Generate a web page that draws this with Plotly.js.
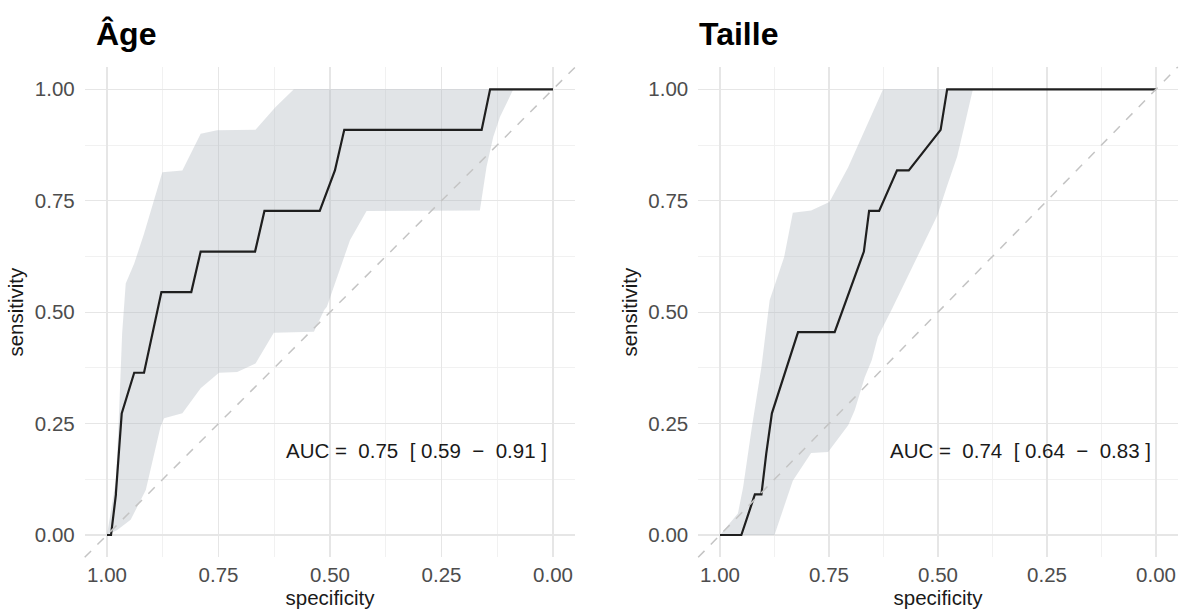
<!DOCTYPE html>
<html>
<head>
<meta charset="utf-8">
<script src="https://cdn.plot.ly/plotly-3.0.1.min.js"></script>
<style>
  html, body { margin: 0; padding: 0; background: #ffffff; }
  #chart { width: 1179px; height: 610px; }
</style>
</head>
<body>
<div id="chart"></div>
<script>
// ---------- Data ----------
const panelTitles = ["Âge", "Taille"];
const aucLabels = [
  "AUC = \u00a00.75 \u00a0[ 0.59 \u00a0\u2212 \u00a00.91 ]",
  "AUC = \u00a00.74 \u00a0[ 0.64 \u00a0\u2212 \u00a00.83 ]"
];
const tickVals = [0, 0.25, 0.5, 0.75, 1];
const tickText = ["0.00", "0.25", "0.50", "0.75", "1.00"];

// Âge : ROC curve
const ageSpec = [1.0, 0.991, 0.980, 0.980, 0.967, 0.939, 0.917, 0.878, 0.811, 0.790, 0.668, 0.647, 0.523, 0.489, 0.468, 0.160, 0.141, 0.0];
const ageSens = [0.0, 0.0, 0.091, 0.094, 0.273, 0.364, 0.364, 0.545, 0.545, 0.636, 0.636, 0.727, 0.727, 0.818, 0.909, 0.909, 1.0, 1.0];
// Âge : confidence band (upper / lower sensitivity)
const ageUpSpec = [1.0, 0.980, 0.973, 0.966, 0.958, 0.939, 0.917, 0.895, 0.876, 0.831, 0.790, 0.753, 0.667, 0.622, 0.581, 0.0];
const ageUpSens = [0.0, 0.123, 0.273, 0.453, 0.564, 0.609, 0.676, 0.751, 0.814, 0.818, 0.900, 0.908, 0.909, 0.960, 1.0, 1.0];
const ageLoSpec = [1.0, 0.977, 0.947, 0.913, 0.880, 0.872, 0.831, 0.790, 0.749, 0.708, 0.667, 0.644, 0.626, 0.536, 0.513, 0.507, 0.455, 0.418, 0.164, 0.149, 0.134, 0.119, 0.089, 0.0];
const ageLoSens = [0.0, 0.011, 0.034, 0.101, 0.243, 0.262, 0.273, 0.329, 0.364, 0.366, 0.385, 0.423, 0.454, 0.456, 0.505, 0.512, 0.662, 0.727, 0.728, 0.826, 0.893, 0.938, 1.0, 1.0];

// Taille : ROC curve
const tailleSpec = [1.0, 0.951, 0.920, 0.905, 0.894, 0.881, 0.821, 0.737, 0.670, 0.658, 0.635, 0.594, 0.567, 0.494, 0.479, 0.0];
const tailleSens = [0.0, 0.0, 0.091, 0.091, 0.182, 0.273, 0.455, 0.455, 0.636, 0.727, 0.727, 0.818, 0.818, 0.909, 1.0, 1.0];
// Taille : confidence band
const tailleUpSpec = [1.0, 0.959, 0.947, 0.928, 0.905, 0.886, 0.853, 0.833, 0.791, 0.749, 0.706, 0.668, 0.626, 0.0];
const tailleUpSens = [0.0, 0.048, 0.107, 0.235, 0.377, 0.527, 0.623, 0.723, 0.728, 0.747, 0.825, 0.908, 1.0, 1.0];
const tailleLoSpec = [1.0, 0.875, 0.833, 0.791, 0.752, 0.706, 0.691, 0.668, 0.652, 0.638, 0.605, 0.541, 0.501, 0.480, 0.456, 0.438, 0.420, 0.0];
const tailleLoSens = [0.0, 0.0, 0.122, 0.184, 0.186, 0.246, 0.280, 0.354, 0.392, 0.444, 0.508, 0.639, 0.718, 0.781, 0.849, 0.924, 1.0, 1.0];

// ---------- Styles ----------
const FONT = "Liberation Sans, Arial, Helvetica, sans-serif";
const bandFill = "rgba(176,183,193,0.38)";
const curveColor = "#1f1f1f";

function panel(spec, sens, upSpec, upSens, loSpec, loSens, xa, ya) {
  return [
    { x: loSpec, y: loSens, xaxis: xa, yaxis: ya, type: "scatter", mode: "lines",
      line: { width: 0, color: "rgba(0,0,0,0)" }, hoverinfo: "skip", showlegend: false },
    { x: upSpec, y: upSens, xaxis: xa, yaxis: ya, type: "scatter", mode: "lines",
      fill: "tonexty", fillcolor: bandFill,
      line: { width: 0, color: "rgba(0,0,0,0)" }, hoverinfo: "skip", showlegend: false },
    { x: spec, y: sens, xaxis: xa, yaxis: ya, type: "scatter", mode: "lines",
      line: { width: 2.2, color: curveColor }, showlegend: false }
  ];
}

const data = [].concat(
  panel(ageSpec, ageSens, ageUpSpec, ageUpSens, ageLoSpec, ageLoSens, "x", "y"),
  panel(tailleSpec, tailleSens, tailleUpSpec, tailleUpSens, tailleLoSpec, tailleLoSens, "x2", "y2")
);

const W = 1179, H = 610;
function xAxis(domain) {
  return {
    domain: domain, range: [1.05, -0.05], autorange: false,
    tickvals: tickVals, ticktext: tickText, ticks: "",
    showline: false, zeroline: false,
    showgrid: true, gridcolor: "#e6e6e6", gridwidth: 1.2,
    minor: { dtick: 0.125, tick0: 0, showgrid: true, gridcolor: "#efefef", gridwidth: 0.9 },
    tickfont: { family: FONT, size: 20.5, color: "#4d4d4d" },
    ticklabelstandoff: 3,
    title: { text: "specificity", font: { family: FONT, size: 20.5, color: "#1a1a1a" }, standoff: 4 },
    automargin: false, fixedrange: true
  };
}
function yAxis(anchor) {
  return {
    domain: [(H - 557.3) / H, (H - 67.0) / H], range: [-0.05, 1.05], autorange: false,
    anchor: anchor,
    tickvals: tickVals, ticktext: tickText, ticks: "",
    showline: false, zeroline: false,
    showgrid: true, gridcolor: "#e6e6e6", gridwidth: 1.2,
    minor: { dtick: 0.125, tick0: 0, showgrid: true, gridcolor: "#efefef", gridwidth: 0.9 },
    tickfont: { family: FONT, size: 20.5, color: "#4d4d4d" },
    ticklabelstandoff: 9,
    title: { text: "sensitivity", font: { family: FONT, size: 20.5, color: "#1a1a1a" }, standoff: 5 },
    automargin: false, fixedrange: true
  };
}

const diag = (xr, yr) => ({
  type: "line", xref: xr + " domain", yref: yr + " domain",
  x0: 0, y0: 0, x1: 1, y1: 1,
  line: { color: "#c4c4c4", width: 1.5, dash: "dash" }, layer: "above"
});

const layout = {
  width: W, height: H,
  margin: { l: 0, r: 0, t: 0, b: 0 },
  paper_bgcolor: "#ffffff", plot_bgcolor: "#ffffff",
  showlegend: false,
  xaxis: Object.assign(xAxis([84.7 / W, 575.3 / W]), { anchor: "y" }),
  yaxis: yAxis("x"),
  xaxis2: Object.assign(xAxis([698.2 / W, 1177.8 / W]), { anchor: "y2" }),
  yaxis2: yAxis("x2"),
  shapes: [diag("x", "y"), diag("x2", "y2")],
  annotations: [
    { text: "<b>" + panelTitles[0] + "</b>", xref: "paper", yref: "paper",
      x: 94 / W, y: 1 - 34 / H, xanchor: "left", yanchor: "middle", showarrow: false,
      font: { family: FONT, size: 32, color: "#000000" } },
    { text: "<b>" + panelTitles[1] + "</b>", xref: "paper", yref: "paper",
      x: 697 / W, y: 1 - 34 / H, xanchor: "left", yanchor: "middle", showarrow: false,
      font: { family: FONT, size: 32, color: "#000000" } },
    { text: aucLabels[0], xref: "x", yref: "y", x: 0.307, y: 0.19,
      xanchor: "center", yanchor: "middle", showarrow: false,
      font: { family: FONT, size: 20.5, color: "#1a1a1a" } },
    { text: aucLabels[1], xref: "x2", yref: "y2", x: 0.31, y: 0.19,
      xanchor: "center", yanchor: "middle", showarrow: false,
      font: { family: FONT, size: 20.5, color: "#1a1a1a" } }
  ]
};

Plotly.newPlot("chart", data, layout, { displayModeBar: false, staticPlot: true });
</script>
</body>
</html>
